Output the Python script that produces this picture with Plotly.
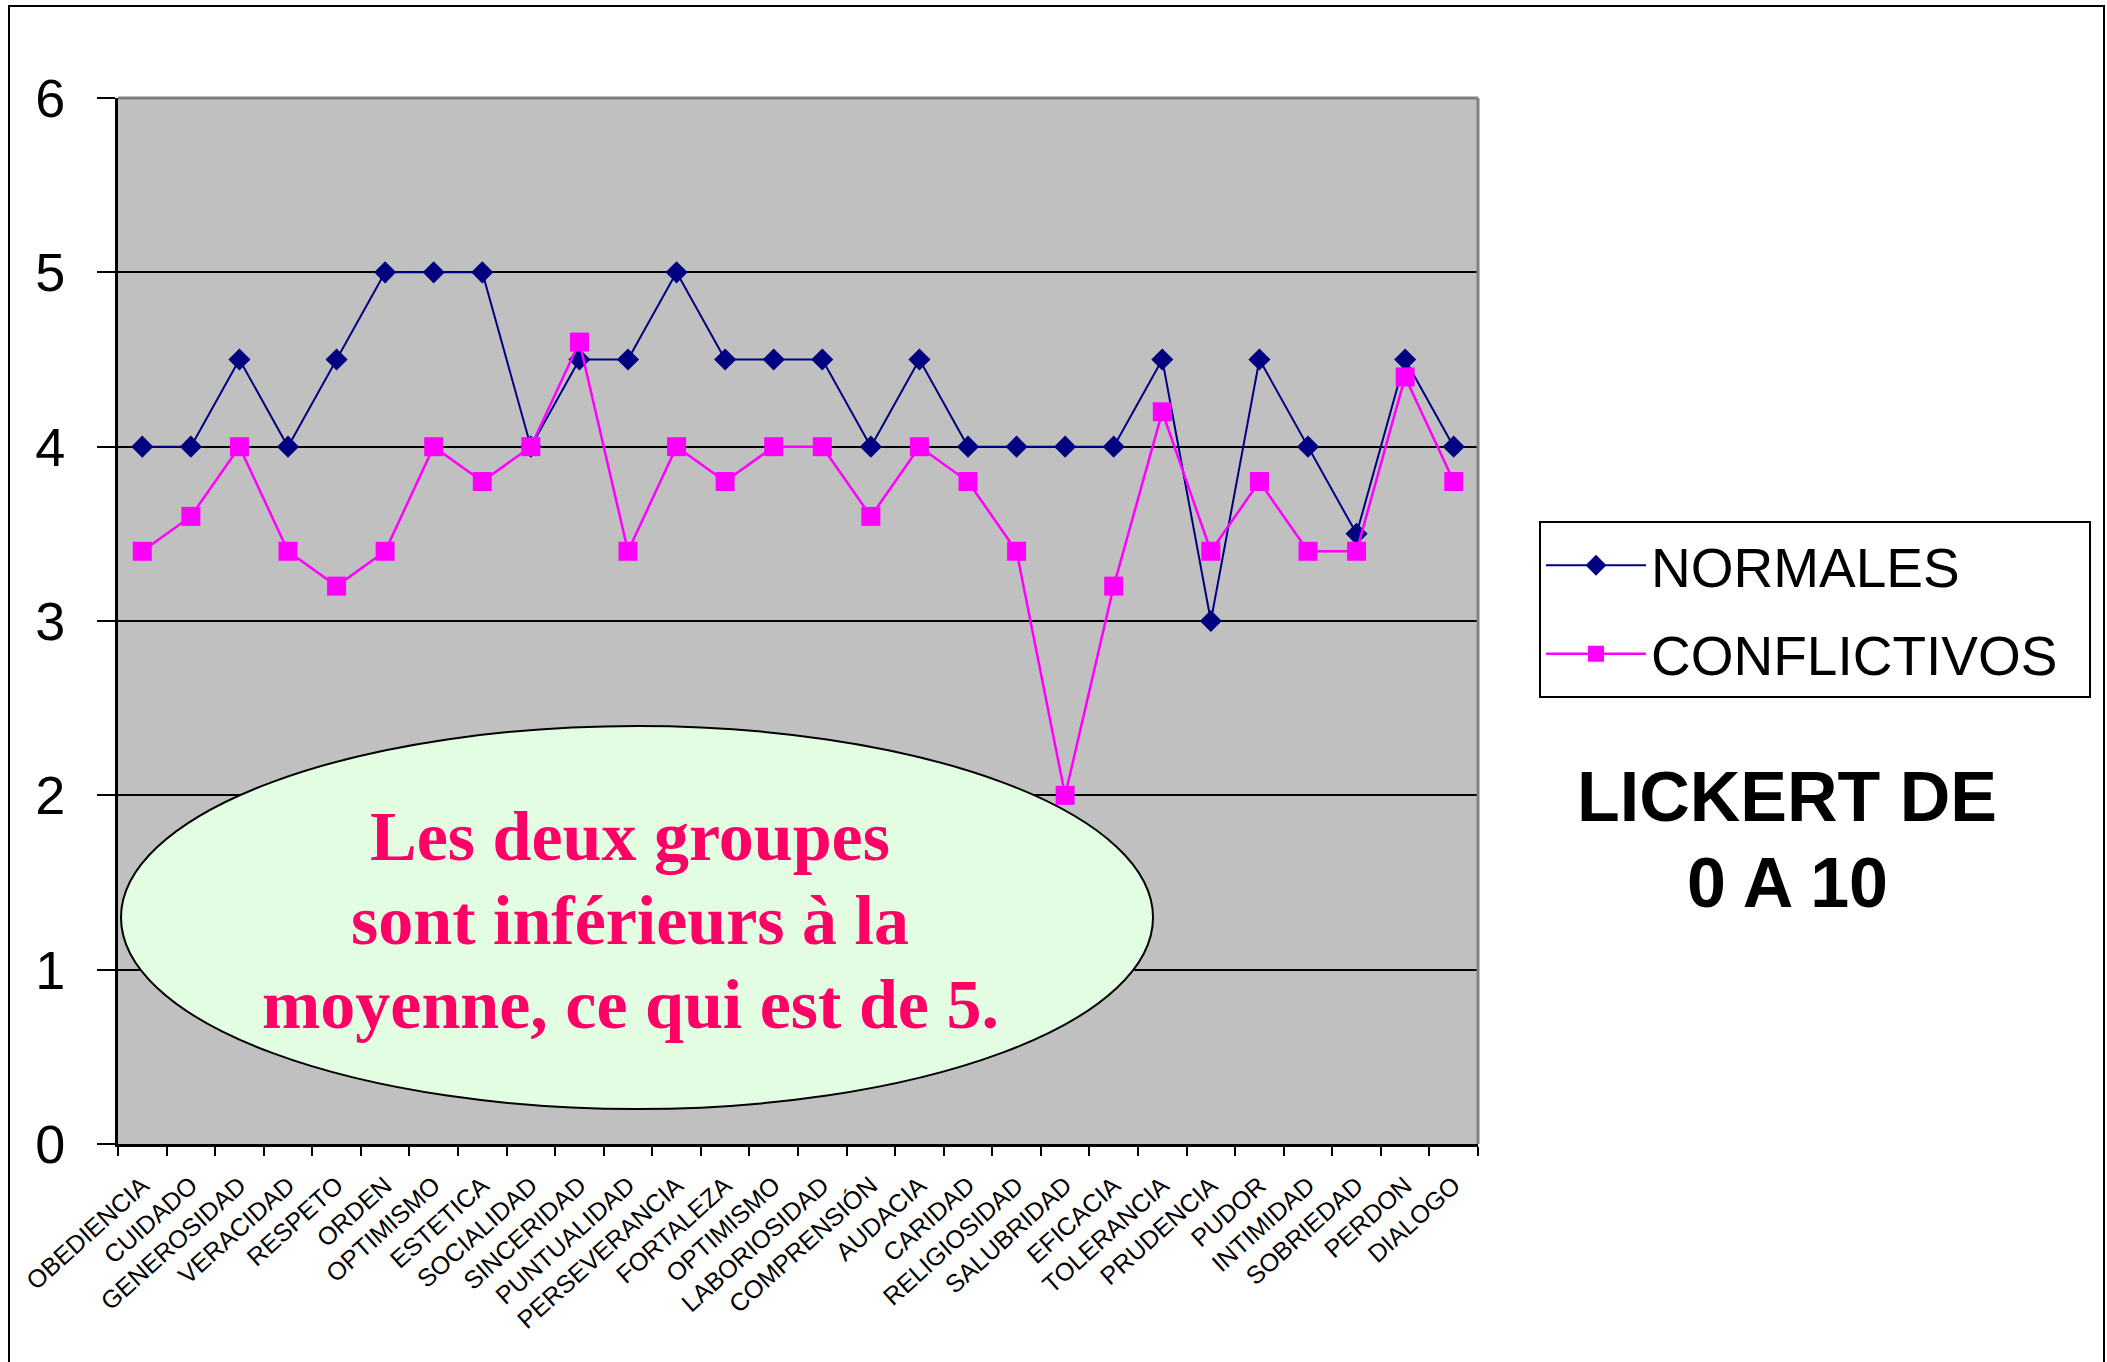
import plotly.graph_objects as go

categories = ["OBEDIENCIA", "CUIDADO", "GENEROSIDAD", "VERACIDAD", "RESPETO", "ORDEN",
              "OPTIMISMO", "ESTETICA", "SOCIALIDAD", "SINCERIDAD", "PUNTUALIDAD",
              "PERSEVERANCIA", "FORTALEZA", "OPTIMISMO", "LABORIOSIDAD", "COMPRENSIÓN",
              "AUDACIA", "CARIDAD", "RELIGIOSIDAD", "SALUBRIDAD", "EFICACIA", "TOLERANCIA",
              "PRUDENCIA", "PUDOR", "INTIMIDAD", "SOBRIEDAD", "PERDON", "DIALOGO"]
normales = [4, 4, 4.5, 4, 4.5, 5, 5, 5, 4, 4.5, 4.5, 5, 4.5, 4.5, 4.5, 4, 4.5, 4,
            4, 4, 4, 4.5, 3, 4.5, 4, 3.5, 4.5, 4]
conflictivos = [3.4, 3.6, 4, 3.4, 3.2, 3.4, 4, 3.8, 4, 4.6, 3.4, 4, 3.8, 4, 4, 3.6,
                4, 3.8, 3.4, 2, 3.2, 4.2, 3.4, 3.8, 3.4, 3.4, 4.4, 3.8]
y_ticks = [0, 1, 2, 3, 4, 5, 6]

idx = list(range(len(categories)))
boundaries = [i - 0.5 for i in range(len(categories) + 1)]

fig = go.Figure()
fig.add_trace(go.Scatter(
    x=idx, y=normales, name="NORMALES", mode="lines+markers", legendgroup="a",
    line=dict(color="#000080", width=2),
    marker=dict(symbol="diamond", size=17, color="#000080"),
))
fig.add_trace(go.Scatter(
    x=idx, y=conflictivos, name="CONFLICTIVOS\u00a0\u2009", mode="lines+markers", legendgroup="b",
    line=dict(color="#FF00FF", width=2.5),
    marker=dict(symbol="square", size=19, color="#FF00FF"),
))

L, R, T, B = 118, 629, 98, 218
W, H = 2107, 1362
pw, ph = W - L - R, H - T - B


def px(x):
    return (x - L) / pw


def py(y):
    return (H - B - y) / ph


shapes = [
    dict(type="rect", xref="paper", yref="paper", x0=px(9), x1=px(2104), y0=py(1380), y1=py(6),
         line=dict(color="black", width=2), fillcolor="rgba(0,0,0,0)", layer="below"),
    dict(type="line", xref="paper", yref="paper", x0=0, x1=1, y0=1, y1=1,
         line=dict(color="#808080", width=3)),
    dict(type="line", xref="paper", yref="paper", x0=1, x1=1, y0=0, y1=1,
         line=dict(color="#808080", width=3)),
    dict(type="circle", xref="paper", yref="paper", x0=px(121), x1=px(1153), y0=py(1109), y1=py(726),
         line=dict(color="black", width=2), fillcolor="#E3FDE3", layer="above"),
]

annotations = []
ell_lines = ["Les deux groupes", "sont inférieurs à la", "moyenne, ce qui est de 5."]
ell_y = [836, 920, 1004]
for txt, yy in zip(ell_lines, ell_y):
    annotations.append(dict(
        text=txt, xref="paper", yref="paper", x=px(630), y=py(yy), showarrow=False,
        xanchor="center", yanchor="middle",
        font=dict(family="Liberation Serif", size=70, color="#FF0066", weight="bold"),
    ))
for txt, yy in zip(["LICKERT DE", "0 A 10"], [797, 883]):
    annotations.append(dict(
        text=f"<b>{txt}</b>", xref="paper", yref="paper", x=px(1787), y=py(yy), showarrow=False,
        xanchor="center", yanchor="middle",
        font=dict(family="Liberation Sans", size=70, color="black"),
    ))

fig.update_layout(
    width=W, height=H,
    margin=dict(l=L, r=R, t=T, b=B, autoexpand=False),
    paper_bgcolor="white", plot_bgcolor="#C0C0C0",
    font=dict(family="Liberation Sans", color="black"),
    showlegend=True,
    legend=dict(
        x=px(1539), y=py(521), xanchor="left", yanchor="top",
        bordercolor="black", borderwidth=2, bgcolor="white",
        font=dict(family="Liberation Sans", size=55, color="black"),
        itemwidth=100, tracegroupgap=14, traceorder="grouped",
    ),
    shapes=shapes,
    annotations=annotations,
)

fig.update_xaxes(
    range=[-0.5, len(categories) - 0.5],
    tickmode="array", tickvals=idx, ticktext=categories, tickangle=-42,
    tickfont=dict(family="Liberation Sans", size=25, color="black"),
    ticks="", showgrid=False, zeroline=False,
    showline=True, linecolor="black", linewidth=3,
    ticklabelstandoff=14,
)
fig.update_xaxes(minor=dict(tickmode="array", tickvals=boundaries, ticks="outside",
                            ticklen=9, tickwidth=2, tickcolor="black", showgrid=False))

fig.update_yaxes(
    range=[0, 6], tickmode="array", tickvals=y_ticks,
    tickfont=dict(family="Liberation Sans", size=54, color="black"),
    ticks="outside", ticklen=18, tickwidth=2, tickcolor="black",
    showgrid=True, gridcolor="black", gridwidth=2,
    zeroline=False, showline=True, linecolor="black", linewidth=3,
    ticklabelstandoff=21,
)

fig.write_html("out.html", config={"displayModeBar": False},
               post_script="document.body.style.margin='0';document.body.style.overflow='hidden';")
